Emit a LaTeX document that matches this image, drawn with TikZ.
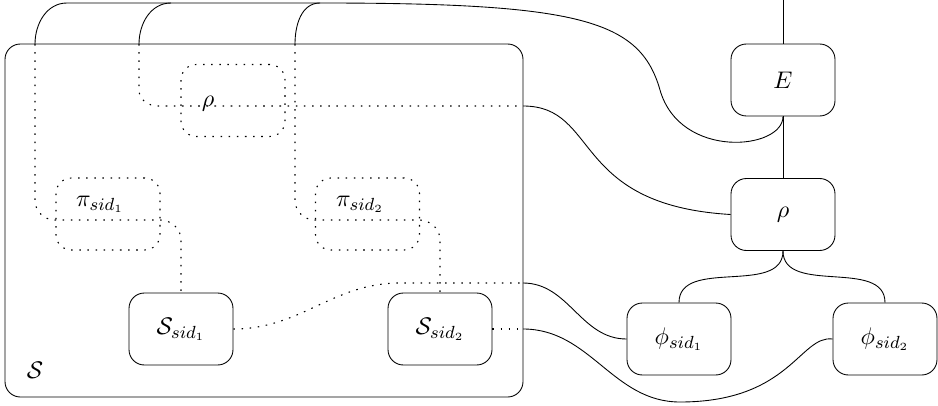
\documentclass[tikz,border=0pt]{standalone}
\usepackage{amsmath}
\begin{document}
\begin{tikzpicture}[x=0.16cm, y=0.16cm, font=\fontsize{11}{13}\selectfont,
  box/.style={draw, rounded corners=7pt, minimum width=1.664cm, minimum height=1.152cm},
  dots/.style={line width=0.5pt, dash pattern=on 0.7pt off 3pt},
  ghost/.style={box, dots}]
\useasboundingbox (0,0) rectangle (93.8,40.5);
\draw[rounded corners=7pt] (0.5,0.8) rectangle (52.3,36.1);
\node (sys) at (3.5,3.5) {$\mathcal{S}$};
\node[box] (E) at (78.3,32.5) {$E$};
\node[box] (rho) at (78.3,19.05) {$\rho$};
\node[box] (phi1) at (67.9,6.6) {$\phi_{sid_1}$};
\node[box] (phi2) at (88.5,6.6) {$\phi_{sid_2}$};
\node[box] (S1) at (18.1,7.6) {$\mathcal{S}_{sid_1}$};
\node[box] (S2) at (44,7.6) {$\mathcal{S}_{sid_2}$};
\node[ghost] (rhoS) at (23.3,30.45) {};
\node[ghost] (pi1) at (10.8,19.1) {};
\node[ghost] (pi2) at (36.75,19.1) {};
\node (rhoSl) at (20.8,30.1) {$\rho$};
\node (pi1l) at (10,20.1) {$\pi_{sid_1}$};
\node (pi2l) at (36,20.1) {$\pi_{sid_2}$};
\coordinate (a1) at (3.5,36.1);
\coordinate (b1) at (13.9,36.1);
\coordinate (c1) at (29.5,36.1);
\coordinate (b2) at (52.3,29.9);
\coordinate (d1) at (52.3,12.2);
\coordinate (e1) at (52.3,7.6);
\coordinate (top) at (78.3,40.5);
\draw (top)--(E.north);
\draw (E.south)--(rho.north);
\draw (rho.south) to[out=-90,in=90] (phi1.north);
\draw (rho.south) to[out=-90,in=90] (phi2.north);
\draw (a1) to[out=90,in=180] (6.7,40.2)--(32,40.2);
\draw (b1) to[out=90,in=180] (17.1,40.2);
\draw (c1) to[out=90,in=180] (32,40.2) .. controls (58,40.2) and (64,38.5) .. (66,31.5) .. controls (68,24.5) and (78.3,25.5) .. (E.south);
\draw[dots] (a1)--(3.5,20.5) to[out=-90,in=180] (5.5,18.5)--(16,18.5) to[out=0,in=90] (18.1,16.5)--(S1.north);
\draw[dots] (b1)--(13.9,31.5) to[out=-90,in=180] (15.8,29.9)--(b2);
\draw[dots] (c1)--(29.5,20.5) to[out=-90,in=180] (31.5,18.5)--(41.9,18.5) to[out=0,in=90] (44,16.5)--(S2.north);
\draw[dots] (S1.east) to[out=0,in=180] (40,12.2)--(d1);
\draw[dots] (S2.east)--(e1);
\draw (b2) .. controls (60,29.9) and (57,20) .. (rho.west);
\draw (d1) to[out=0,in=180] (phi1.west);
\draw (e1) to[out=0,in=180] (68,0.3) .. controls (79,0.3) and (80,7) .. (phi2.west);
\end{tikzpicture}
\end{document}
